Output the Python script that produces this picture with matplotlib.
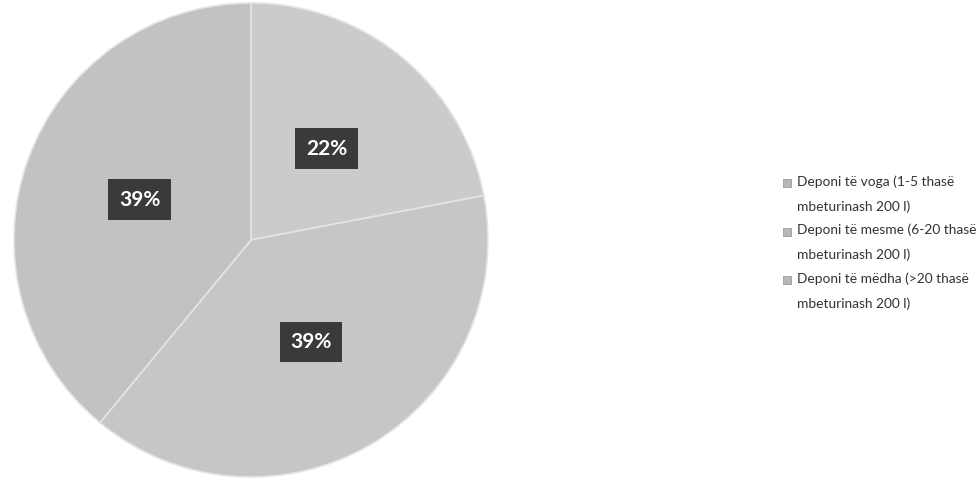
import numpy as np
import matplotlib.pyplot as plt
from matplotlib.patches import Rectangle

categories = ['Deponi të voga (1-5 thasë\nmbeturinash 200 l)',
              'Deponi të mesme (6-20 thasë\nmbeturinash 200 l)',
              'Deponi të mëdha (>20 thasë\nmbeturinash 200 l)']
shares = [22, 39, 39]
colors = ['#cbcbcb', '#c6c6c6', '#c2c2c2']

plt.rcParams['font.family'] = ['Lato', 'DejaVu Sans']

W, H = 978, 482
fig = plt.figure(figsize=(W / 100, H / 100), dpi=100)

cx, cy, r = 251, 240, 237
ax = fig.add_axes([(cx - r) / W, (H - cy - r) / H, 2 * r / W, 2 * r / H])

wedges, texts, autotexts = ax.pie(
    shares, colors=colors, startangle=90, counterclock=False,
    autopct='%d%%', pctdistance=0.5,
    wedgeprops=dict(edgecolor='#e4e4e4', linewidth=1.2),
    textprops=dict(color='white', fontsize=15, fontweight='bold'))
for t in autotexts:
    t.set_bbox(dict(boxstyle='square,pad=0.5', facecolor='#3a3a3a', edgecolor='none'))
ax.set_xlim(-1, 1)
ax.set_ylim(-1, 1)
ax.set_aspect('equal')

# legend, marker next to the first line of each entry
y0, step = 183, 48.5
for i, (lab, col) in enumerate(zip(categories, colors)):
    y = y0 + i * step
    fig.patches.append(Rectangle((783 / W, 1 - (y + 4) / H), 8 / W, 8 / H,
                                 transform=fig.transFigure, facecolor='#b8b8b8',
                                 edgecolor='#9a9a9a', linewidth=0.6))
    fig.text(797 / W, 1 - (y - 8) / H, lab, ha='left', va='top', fontsize=9.9,
             color='#333333', linespacing=2.2)

fig.savefig('out.png', dpi=100)
